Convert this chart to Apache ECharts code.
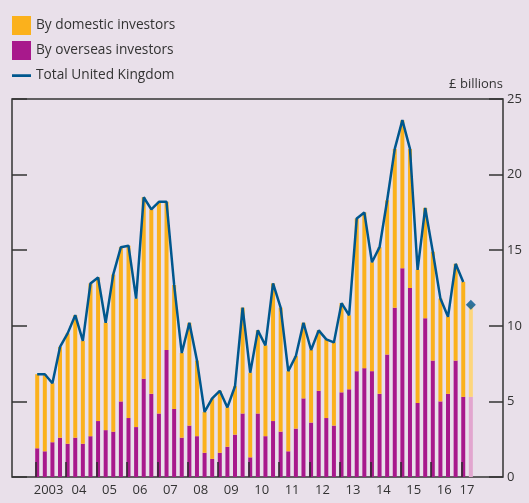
<!DOCTYPE html>
<html>
<head>
<meta charset="utf-8">
<script src="https://cdn.jsdelivr.net/npm/echarts@6/dist/echarts.min.js"></script>
<style>
  html, body { margin: 0; padding: 0; background: #e9e0ea; }
  #main { width: 529px; height: 503px; }
</style>
</head>
<body>
<div id="main"></div>
<script>
// year labels, one per year (2017 only has Q1 and a partial Q2)
const years = ['2003','04','05','06','07','08','09','10','11','12','13','14','15','16','17']

// quarterly values, £ billions, 2003 Q1 .. 2017 Q2
const overseas = [1.9,1.7,2.3,2.6, 2.2,2.6,2.2,2.7, 3.7,3.1,3.0,5.0, 3.9,3.3,6.5,5.5,
  4.2,8.4,4.5,2.6, 3.4,2.7,1.6,1.2, 1.6,2.0,2.8,4.2, 1.3,4.2,2.7,3.7,
  3.0,1.7,3.2,5.2, 3.6,5.7,3.9,3.4, 5.6,5.8,7.0,7.2, 7.0,5.5,8.1,11.2,
  13.8,12.5,4.9,10.5, 7.7,5.0,5.5,7.7, 5.3,5.3]
const domestic = [4.9,5.1,3.9,6.0, 7.3,8.1,6.8,10.1, 9.5,7.1,10.4,10.2, 11.4,8.5,12.0,12.2,
  14.0,9.8,8.2,5.6, 6.8,5.0,2.7,4.0, 4.1,2.6,3.2,7.0, 5.6,5.5,6.0,9.1,
  8.2,5.3,4.8,5.0, 4.8,4.0,5.2,5.5, 5.9,4.9,10.1,10.3, 7.2,9.7,10.2,10.5,
  9.8,9.2,8.8,7.3, 7.2,6.8,5.1,6.4, 7.6,6.1]
const total = [6.8,6.8,6.2,8.6, 9.5,10.7,9.0,12.8, 13.2,10.2,13.4,15.2, 15.3,11.8,18.5,17.7,
  18.2,18.2,12.7,8.2, 10.2,7.7,4.3,5.2, 5.7,4.6,6.0,11.2, 6.9,9.7,8.7,12.8,
  11.2,7.0,8.0,10.2, 8.4,9.7,9.1,8.9, 11.5,10.7,17.1,17.5, 14.2,15.2,18.3,21.7,
  23.6,21.7,13.7,17.8, 14.9,11.8,10.6,14.1, 12.9,null]
// latest partial quarter shown as a marker only
const partialTotal = [null,null,null,null, null,null,null,null, null,null,null,null, null,null,null,null,
  null,null,null,null, null,null,null,null, null,null,null,null, null,null,null,null,
  null,null,null,null, null,null,null,null, null,null,null,null, null,null,null,null,
  null,null,null,null, null,null,null,null, null,11.4]
const yTicks = [0,5,10,15,20,25]

const quarters = []
years.forEach((y, k) => {
  const n = k === years.length - 1 ? 2 : 4
  for (let q = 1; q <= n; q++) quarters.push(y + ' Q' + q)
})
const last = quarters.length - 1
// quarter boundaries, used only for the year tick marks
const bounds = quarters.map((q, i) => i).concat([quarters.length])

const orange = '#fbb11c', magenta = '#a8198c', blue = '#00578e'
const font = 'Open Sans'

function withPartial(arr, light) {
  return arr.map((v, i) => i === last ? { value: v, itemStyle: { color: light } } : v)
}

const chart = echarts.init(document.getElementById('main'))
chart.setOption({
  backgroundColor: '#e9e0ea',
  textStyle: { fontFamily: font },
  legend: {
    orient: 'vertical', left: 12, top: 16, padding: 0,
    itemWidth: 19, itemHeight: 19, itemGap: 6,
    textStyle: { fontFamily: font, fontSize: 13.7, color: '#333' },
    data: [
      { name: 'By domestic investors', icon: 'rect' },
      { name: 'By overseas investors', icon: 'rect' },
      { name: 'Total United Kingdom', icon: 'path://M0,0 L0.01,0 L0,0.01 Z M0,8.2 L19,8.2 L19,11 L0,11 Z M18.99,19 L19,19 L19,18.99 Z' }
    ]
  },
  grid: [
    { left: 12, right: 26, top: 99, bottom: 26, show: true, borderColor: '#333', borderWidth: 1.5, backgroundColor: 'transparent' },
    { left: 33.4, right: 54.35, top: 99, bottom: 26 },
    // year ticks sit at the left edge of each first-quarter bar
    { left: 35.6, right: 52.15, top: 99, bottom: 26 }
  ],
  xAxis: [
    { gridIndex: 0, type: 'value', show: false },
    {
      gridIndex: 1, type: 'category', data: quarters, position: 'bottom',
      axisLine: { show: false },
      axisTick: { show: false },
      axisLabel: {
        interval: (i) => (i % 4 === 1 && i < 56) || i === 56,
        formatter: (v, i) => years[Math.floor(i / 4)],
        padding: [0, 0, 0, 7.6],
        margin: 7, fontSize: 13, color: '#333', fontFamily: font
      }
    },
    {
      gridIndex: 2, type: 'category', data: bounds, boundaryGap: false, position: 'bottom', z: 5,
      axisLine: { show: false },
      axisLabel: { show: false },
      axisTick: { show: true, inside: true, length: 15, interval: (i) => i % 4 === 0 && i < quarters.length, lineStyle: { color: '#2a2a2a', width: 1.5 } }
    }
  ],
  yAxis: [
    {
      gridIndex: 0, position: 'left', min: 0, max: 25, interval: 5,
      axisLine: { show: false }, splitLine: { show: false }, axisLabel: { show: false },
      axisTick: { show: true, inside: true, length: 15, lineStyle: { color: '#333', width: 1.5 } }
    },
    {
      gridIndex: 0, position: 'right', min: 0, max: 25, interval: 5,
      name: '£ billions', nameLocation: 'end', nameGap: 8,
      nameTextStyle: { align: 'right', verticalAlign: 'bottom', fontSize: 13, color: '#333', fontFamily: font },
      axisLine: { show: false }, splitLine: { show: false },
      axisTick: { show: true, inside: true, length: 14, lineStyle: { color: '#333', width: 1.5 } },
      axisLabel: { margin: 4, fontSize: 13, color: '#333', fontFamily: font, formatter: (v) => yTicks.includes(v) ? v : '' }
    },
    { gridIndex: 1, min: 0, max: 25, show: false },
    { gridIndex: 2, min: 0, max: 25, show: false }
  ],
  series: [
    {
      name: 'By overseas investors', type: 'bar', stack: 'total', xAxisIndex: 1, yAxisIndex: 2,
      barWidth: 4, itemStyle: { color: magenta }, data: withPartial(overseas, '#e2a6cf')
    },
    {
      name: 'By domestic investors', type: 'bar', stack: 'total', xAxisIndex: 1, yAxisIndex: 2,
      barWidth: 4, itemStyle: { color: orange }, data: withPartial(domestic, '#fdd67c')
    },
    {
      name: 'Total United Kingdom', type: 'line', xAxisIndex: 1, yAxisIndex: 2,
      symbol: 'none', z: 4, lineStyle: { color: blue, width: 2.5 }, itemStyle: { color: blue },
      data: total
    },
    {
      name: 'Total partial', type: 'scatter', xAxisIndex: 1, yAxisIndex: 2,
      symbol: 'diamond', symbolSize: 10, z: 4, itemStyle: { color: blue },
      data: partialTotal
    }
  ]
})
</script>
</body>
</html>
